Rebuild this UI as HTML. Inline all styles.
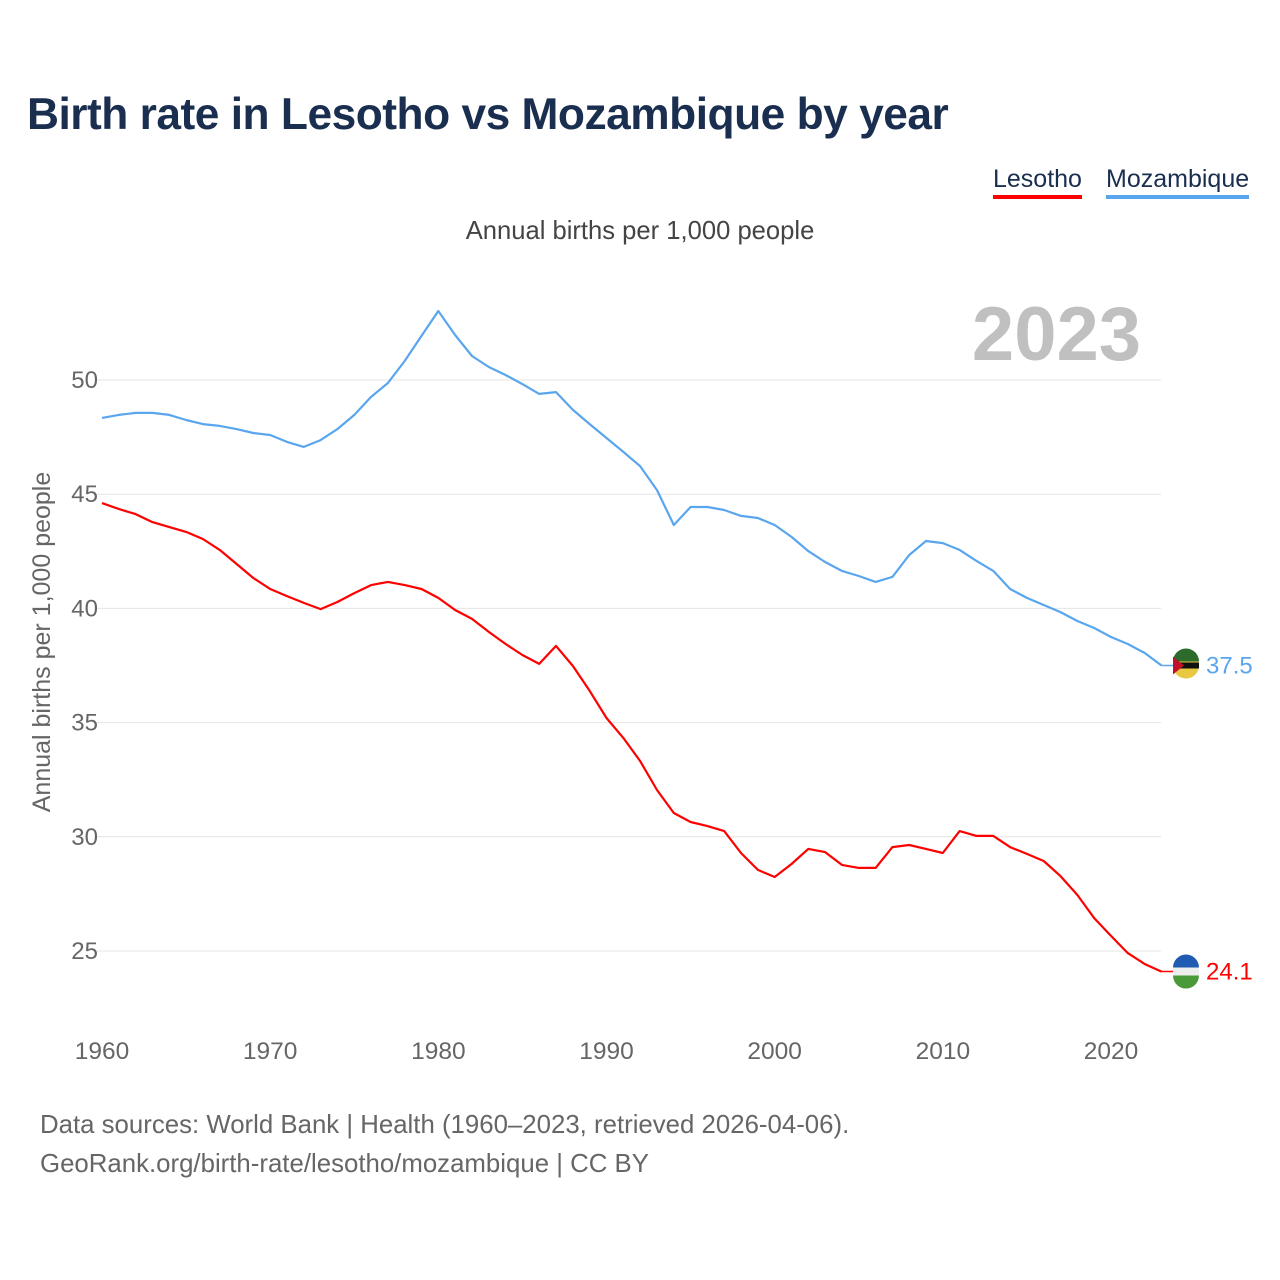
<!DOCTYPE html>
<html><head><meta charset="utf-8">
<style>
html,body{margin:0;padding:0;background:#fff;}
body{width:1280px;height:1280px;position:relative;font-family:"Liberation Sans",sans-serif;overflow:hidden;}
.t{position:absolute;white-space:nowrap;}
</style></head>
<body>
<div class="t" style="left:27px;top:90px;font-size:44.3px;font-weight:bold;color:#1a2e4f;letter-spacing:-0.5px;">Birth rate in Lesotho vs Mozambique by year</div>
<div class="t" style="left:993px;top:165px;font-size:25px;color:#1a2e4f;border-bottom:4px solid #f00;padding-bottom:1px;">Lesotho</div>
<div class="t" style="left:1106px;top:165px;font-size:25px;color:#1a2e4f;border-bottom:4px solid #5aa6ee;padding-bottom:1px;">Mozambique</div>
<div class="t" style="left:0;width:1280px;text-align:center;top:217px;font-size:25.6px;color:#444;">Annual births per 1,000 people</div>
<div class="t" style="left:40px;top:1106px;font-size:25.8px;color:#666;line-height:39px;">Data sources: World Bank | Health (1960–2023, retrieved 2026-04-06).<br>GeoRank.org/birth-rate/lesotho/mozambique | CC BY</div>
<svg id="chart" width="1280" height="1280" style="position:absolute;left:0;top:0;">
</svg>
<script>
const years=[];for(let y=1960;y<=2023;y++)years.push(y);
const mozambique=[48.34,48.47,48.56,48.56,48.47,48.25,48.07,47.99,47.85,47.68,47.59,47.29,47.07,47.37,47.85,48.47,49.26,49.87,50.83,51.93,53.02,51.97,51.05,50.57,50.22,49.82,49.39,49.47,48.69,48.07,47.46,46.85,46.23,45.18,43.65,44.44,44.44,44.31,44.05,43.96,43.65,43.13,42.51,42.03,41.64,41.42,41.16,41.38,42.34,42.95,42.86,42.56,42.08,41.64,40.85,40.46,40.15,39.84,39.45,39.14,38.75,38.44,38.05,37.5];
const lesotho=[44.61,44.35,44.13,43.78,43.56,43.35,43.04,42.56,41.95,41.33,40.85,40.54,40.24,39.97,40.28,40.67,41.02,41.16,41.02,40.85,40.46,39.93,39.54,38.97,38.44,37.96,37.57,38.36,37.48,36.39,35.2,34.33,33.32,32.05,31.04,30.65,30.47,30.25,29.29,28.55,28.24,28.81,29.47,29.33,28.77,28.64,28.64,29.55,29.64,29.47,29.29,30.25,30.04,30.04,29.55,29.25,28.94,28.28,27.45,26.44,25.66,24.91,24.43,24.1];
const yTicks=[25,30,35,40,45,50];
const xTicks=[1960,1970,1980,1990,2000,2010,2020];
const NS='http://www.w3.org/2000/svg';
const svg=document.getElementById('chart');
const X=y=>102+(y-1960)*1009/60;
const Y=v=>380+(50-v)*571/25;
function mk(tag,attrs,parent){const e=document.createElementNS(NS,tag);for(const k in attrs)e.setAttribute(k,attrs[k]);(parent||svg).appendChild(e);return e;}
yTicks.forEach(v=>{
  const l=mk('line',{x1:97,x2:1161,y1:Y(v),y2:Y(v),stroke:'#e4e4e4','stroke-width':1});
  
  
  const t=mk('text',{x:98,y:Y(v)+8,'text-anchor':'end','font-size':24,fill:'#666','font-family':'Liberation Sans, sans-serif'});
  t.textContent=v;
  
  
});
xTicks.forEach(v=>{
  const t=mk('text',{x:X(v),y:1059,'text-anchor':'middle','font-size':24.5,fill:'#666','font-family':'Liberation Sans, sans-serif'});
  t.textContent=v;
  
  
});
const yt=mk('text',{transform:'translate(50,642) rotate(-90)','text-anchor':'middle','font-size':25,fill:'#666','font-family':'Liberation Sans, sans-serif'});
yt.textContent='Annual births per 1,000 people';


const yr=mk('text',{x:1141,y:360,'text-anchor':'end','font-size':76,'font-weight':'bold',fill:'#c0c0c0','font-family':'Liberation Sans, sans-serif'});
yr.textContent='2023';


function series(vals,color,name){
  const d=vals.map((v,i)=>(i?'L':'M')+X(years[i]).toFixed(1)+','+Y(v).toFixed(1)).join(' ');
  const p=mk('path',{d:d,fill:'none',stroke:color,'stroke-width':2.2,'stroke-linejoin':'round'});
  
  
  const last=vals[vals.length-1];
  const ly=Y(last);
  mk('line',{x1:X(2023),x2:1186,y1:ly,y2:ly,stroke:color,'stroke-width':1.5});
  const c=mk('circle',{cx:1186,cy:ly,r:13,fill:name==='lesotho'?'#eee':'#e8c840'});
  
  
  if(name==='lesotho'){
    mk('path',{d:`M1173,${ly-4} A13,13 0 0 1 1199,${ly-4} Z`,fill:'#1f5bb0'});
    mk('path',{d:`M1173,${ly+4} A13,13 0 0 0 1199,${ly+4} Z`,fill:'#4a9a3a'});
  }else{
    mk('path',{d:`M1173,${ly-4} A13,13 0 0 1 1199,${ly-4} Z`,fill:'#2d6b2d'});
    mk('rect',{x:1173,y:ly-3,width:26,height:6,fill:'#111'});
    mk('path',{d:`M1173,${ly-9} L1184,${ly} L1173,${ly+9} Z`,fill:'#c0102a'});
  }
  const t=mk('text',{x:1206,y:ly+8,'font-size':24,fill:color,'font-family':'Liberation Sans, sans-serif'});
  t.textContent=last.toFixed(1);
  
  
}
series(mozambique,'#5aa6ee','mozambique');
series(lesotho,'#f00','lesotho');
</script>
</body></html>
